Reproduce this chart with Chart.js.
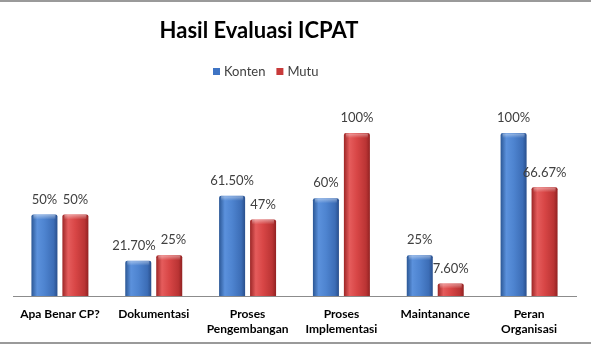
<!DOCTYPE html>
<html>
<head>
<meta charset="utf-8">
<script src="https://cdn.jsdelivr.net/npm/chart.js@4.4.0/dist/chart.umd.min.js"></script>
<style>
  html, body { margin: 0; padding: 0; background: #fff; }
  #wrap { position: relative; width: 591px; height: 348px; }
  canvas { display: block; }
</style>
</head>
<body>
<div id="wrap"><canvas id="c" width="591" height="348"></canvas></div>
<script>
const chartTitle = 'Hasil Evaluasi ICPAT';
const categories = [
  'Apa Benar CP?',
  'Dokumentasi',
  ['Proses', 'Pengembangan'],
  ['Proses', 'Implementasi'],
  'Maintanance',
  ['Peran', 'Organisasi']
];
const seriesNames = ['Konten', 'Mutu'];
const konten = [50, 21.7, 61.5, 60, 25, 100];
const mutu = [50, 25, 47, 100, 7.6, 66.67];
const kontenLabels = ['50%', '21.70%', '61.50%', '60%', '25%', '100%'];
const mutuLabels = ['50%', '25%', '47%', '100%', '7.60%', '66.67%'];

const palettes = [
  ['#2b5795', '#5b91dc', '#4e84d0', '#3c6db6', '#294f8c'],
  ['#9c2626', '#e55c5c', '#d84646', '#ba3434', '#922222']
];
const legendSwatch = ['#3f74c4', '#c83a3a'];

const gradientBars = {
  id: 'gradientBars',
  beforeDatasetsDraw(chart) {
    const ctx = chart.ctx;
    chart.data.datasets.forEach((ds, di) => {
      const meta = chart.getDatasetMeta(di);
      const p = palettes[di];
      meta.data.forEach(el => {
        const half = el.width / 2;
        const g = ctx.createLinearGradient(el.x - half, 0, el.x + half, 0);
        g.addColorStop(0, p[0]);
        g.addColorStop(0.22, p[1]);
        g.addColorStop(0.5, p[2]);
        g.addColorStop(0.85, p[3]);
        g.addColorStop(1, p[4]);
        el.options = Object.assign({}, el.options, { backgroundColor: g });
      });
    });
  },
  afterDatasetsDraw(chart) {
    const ctx = chart.ctx;
    ctx.save();
    chart.data.datasets.forEach((ds, di) => {
      const meta = chart.getDatasetMeta(di);
      meta.data.forEach(el => {
        const half = el.width / 2;
        const g = ctx.createLinearGradient(0, el.y, 0, el.y + 5);
        g.addColorStop(0, 'rgba(255,255,255,0.45)');
        g.addColorStop(1, 'rgba(255,255,255,0)');
        ctx.fillStyle = g;
        ctx.fillRect(el.x - half + 2, el.y + 0.5, el.width - 4, 5);
      });
    });
    ctx.restore();
  }
};

const decorations = {
  id: 'decorations',
  afterDraw(chart) {
    const ctx = chart.ctx;
    ctx.save();
    // frame lines
    ctx.fillStyle = '#9a9a9a';
    ctx.fillRect(0, 0, 591, 2);
    ctx.fillRect(0, 342, 591, 2);
    // title
    ctx.fillStyle = '#000';
    ctx.font = 'bold 22px Lato';
    ctx.textAlign = 'center';
    ctx.textBaseline = 'middle';
    ctx.fillText(chartTitle, 259, 31);
    // legend
    ctx.font = '13px Lato';
    ctx.textAlign = 'left';
    let x = 213;
    seriesNames.forEach((name, i) => {
      ctx.fillStyle = legendSwatch[i];
      ctx.fillRect(x, 68, 7, 7);
      ctx.fillStyle = '#404040';
      ctx.fillText(name, x + 11, 71.5);
      x += 11 + ctx.measureText(name).width + 11;
    });
    // data labels with simple overlap avoidance
    ctx.font = '13px Lato';
    ctx.fillStyle = '#404040';
    ctx.textAlign = 'center';
    const lbls = [kontenLabels, mutuLabels];
    const m0 = chart.getDatasetMeta(0).data;
    const m1 = chart.getDatasetMeta(1).data;
    m0.forEach((a, i) => {
      const b = m1[i];
      let xa = a.x, xb = b.x;
      const wa = ctx.measureText(lbls[0][i]).width;
      const wb = ctx.measureText(lbls[1][i]).width;
      const ya = a.y - 15, yb = b.y - 15;
      if (Math.abs(ya - yb) < 14) {
        const overlap = (xa + wa / 2 + 5) - (xb - wb / 2);
        if (overlap > 0) { xa -= overlap / 2; xb += overlap / 2; }
      }
      ctx.fillText(lbls[0][i], xa, ya);
      ctx.fillText(lbls[1][i], xb, yb);
    });
    ctx.restore();
  }
};

new Chart(document.getElementById('c'), {
  type: 'bar',
  data: {
    labels: categories,
    datasets: [
      { label: seriesNames[0], data: konten, backgroundColor: legendSwatch[0], borderRadius: 2, borderSkipped: 'bottom' },
      { label: seriesNames[1], data: mutu, backgroundColor: legendSwatch[1], borderRadius: 2, borderSkipped: 'bottom' }
    ]
  },
  options: {
    responsive: false,
    animation: false,
    events: [],
    categoryPercentage: 0.66,
    barPercentage: 0.84,
    layout: { padding: { left: 13, right: 15, top: 133, bottom: 0 } },
    plugins: {
      legend: { display: false },
      title: { display: false },
      tooltip: { enabled: false }
    },
    scales: {
      x: {
        grid: { display: true, drawOnChartArea: false, drawTicks: false, color: 'rgba(0,0,0,0)' },
        border: { display: true, color: '#8c8c8c', width: 1 },
        ticks: { color: '#000', font: { family: 'Lato', weight: 'bold', size: 12, lineHeight: 1.25 }, padding: 11, maxRotation: 0, autoSkip: false }
      },
      y: {
        display: false,
        min: 0,
        max: 100
      }
    }
  },
  plugins: [gradientBars, decorations]
});
</script>
</body>
</html>
